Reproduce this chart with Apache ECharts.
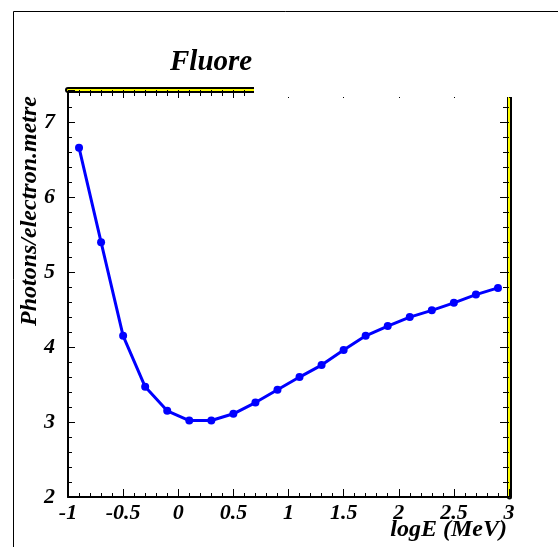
<!DOCTYPE html>
<html>
<head>
<meta charset="utf-8">
<script src="https://cdn.jsdelivr.net/npm/echarts@6/dist/echarts.min.js"></script>
<style>
  html, body { margin: 0; padding: 0; background: #fff; }
  #chart { width: 558px; height: 547px; }
</style>
</head>
<body>
<div id="chart"></div>
<script>
// log10 of electron energy (MeV)
const logE = [-0.9, -0.7, -0.5, -0.3, -0.1, 0.1, 0.3, 0.5, 0.7, 0.9,
              1.1, 1.3, 1.5, 1.7, 1.9, 2.1, 2.3, 2.5, 2.7, 2.9];
// fluorescence yield, photons per electron per metre
const photons = [6.66, 5.40, 4.15, 3.47, 3.15, 3.02, 3.02, 3.11, 3.26, 3.43,
                 3.60, 3.76, 3.96, 4.15, 4.28, 4.40, 4.49, 4.59, 4.70, 4.79];

const titleText = 'Fluore';
const xTitle = 'logE (MeV)';
const yTitle = 'Photons/electron.metre';

const X_MIN = -1, X_MAX = 3, X_STEP = 0.5, X_MINOR = 0.1;
const Y_MIN = 2, Y_MAX = 7.43, Y_STEP = 1, Y_MINOR = 0.2;

const serif = '"Liberation Serif", "DejaVu Serif", serif';
const labelFont = { fontFamily: serif, fontStyle: 'italic', fontWeight: 'bold', fontSize: 22, color: '#000' };

const points = logE.map((x, i) => [x, photons[i]]);

function axisBase(extra) {
  const base = {
    type: 'value',
    splitLine: { show: false },
    axisLabel: { show: false },
    axisTick: { show: false },
    axisLine: { show: false, onZero: false }
  };
  return Object.assign(base, extra);
}

const chart = echarts.init(document.getElementById('chart'), null, { renderer: 'canvas' });

chart.setOption({
  animation: false,
  backgroundColor: '#fff',
  title: {
    text: titleText,
    left: 170,
    top: 48,
    padding: 0,
    textStyle: { fontFamily: serif, fontStyle: 'italic', fontWeight: 'bold', fontSize: 29, color: '#000' }
  },
  grid: { left: 68, right: 49, top: 90, bottom: 50 },
  xAxis: [
    // bottom axis with labels and major ticks
    axisBase({
      position: 'bottom', min: X_MIN, max: X_MAX, interval: X_STEP,
      axisLine: { show: true, onZero: false, lineStyle: { color: '#000', width: 2 } },
      axisTick: { show: true, inside: true, length: 8, lineStyle: { color: '#000', width: 1 } },
      axisLabel: Object.assign({ show: true, margin: 5 }, labelFont, {
        formatter: v => (Math.abs(v - Math.round(v * 2) / 2) < 1e-6 ? String(+v.toFixed(1)) : '')
      })
    }),
    // bottom minor ticks
    axisBase({
      position: 'bottom', min: X_MIN, max: X_MAX, interval: X_MINOR,
      axisTick: { show: true, inside: true, length: 4, lineStyle: { color: '#000', width: 1 } }
    }),
    // top frame: heavy black band
    axisBase({
      position: 'top', min: X_MIN, max: X_MAX, interval: X_STEP,
      axisLine: { show: true, onZero: false, lineStyle: { color: '#000', width: 6 } },
      axisTick: { show: true, inside: true, length: 8, lineStyle: { color: '#000', width: 1 } }
    }),
    axisBase({
      position: 'top', min: X_MIN, max: X_MAX, interval: X_MINOR,
      axisTick: { show: true, inside: true, length: 6, lineStyle: { color: '#000', width: 1 } }
    }),
    // top frame: yellow core
    axisBase({
      position: 'top', min: X_MIN, max: X_MAX,
      axisLine: { show: true, onZero: false, lineStyle: { color: '#ffff00', width: 2 } }
    })
  ],
  yAxis: [
    axisBase({
      position: 'left', min: Y_MIN, max: Y_MAX, interval: Y_STEP,
      axisLine: { show: true, onZero: false, lineStyle: { color: '#000', width: 2 } },
      axisTick: { show: true, inside: true, length: 7, lineStyle: { color: '#000', width: 1 } },
      axisLabel: Object.assign({ show: true, margin: 13 }, labelFont, {
        formatter: v => (Math.abs(v - Math.round(v)) < 1e-6 ? String(Math.round(v)) : '')
      })
    }),
    axisBase({
      position: 'left', min: Y_MIN, max: Y_MAX, interval: Y_MINOR,
      axisTick: { show: true, inside: true, length: 4, lineStyle: { color: '#000', width: 1 } }
    }),
    // right frame: black band with ticks
    axisBase({
      position: 'right', min: Y_MIN, max: Y_MAX, interval: Y_STEP,
      axisLine: { show: true, onZero: false, lineStyle: { color: '#000', width: 5 } },
      axisTick: { show: true, inside: true, length: 9, lineStyle: { color: '#000', width: 1 } }
    }),
    axisBase({
      position: 'right', min: Y_MIN, max: Y_MAX, interval: Y_MINOR,
      axisTick: { show: true, inside: true, length: 6, lineStyle: { color: '#000', width: 1 } }
    }),
    axisBase({
      position: 'right', min: Y_MIN, max: Y_MAX,
      axisLine: { show: true, onZero: false, lineStyle: { color: '#ffff00', width: 2 } }
    })
  ],
  series: [{
    type: 'line',
    xAxisIndex: 0,
    yAxisIndex: 0,
    data: points,
    symbol: 'circle',
    symbolSize: 8,
    lineStyle: { color: '#0000ff', width: 3 },
    itemStyle: { color: '#0000ff' },
    z: 3
  }],
  graphic: [
    // blank patch over the upper right of the frame
    { type: 'rect', z: 100, shape: { x: 254, y: 13, width: 300, height: 84 }, style: { fill: '#fff' } },
    // outer page frame
    { type: 'polyline', z: 101, shape: { points: [[13.5, 547], [13.5, 11.5], [558, 11.5]] },
      style: { stroke: '#000', lineWidth: 1, fill: null } },
    { type: 'text', z: 101, x: 30, y: 211, rotation: Math.PI / 2,
      style: { text: yTitle, fontFamily: serif, fontStyle: 'italic', fontWeight: 'bold', fontSize: 24,
               fill: '#000', align: 'center', verticalAlign: 'middle' } },
    { type: 'text', z: 101, x: 507, y: 530,
      style: { text: xTitle, fontFamily: serif, fontStyle: 'italic', fontWeight: 'bold', fontSize: 24,
               fill: '#000', align: 'right', verticalAlign: 'middle' } }
  ]
});
</script>
</body>
</html>
